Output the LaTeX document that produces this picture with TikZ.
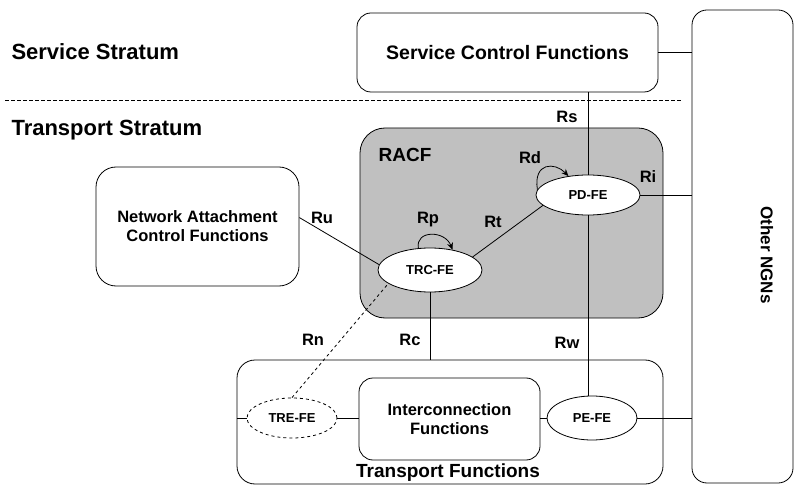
\documentclass[tikz,border=0pt]{standalone}
\usepackage{fontspec}
\setmainfont{Liberation Sans}
\usetikzlibrary{shapes.geometric,arrows.meta}
\newcommand\fsz[2]{\fontsize{#1}{#2}\selectfont\bfseries}
\definecolor{racfgray}{RGB}{192,192,192}
\begin{document}
\begin{tikzpicture}[x=1pt,y=-1pt,
  link/.style={line width=0.8pt},
  box/.style={draw, line width=0.8pt, rounded corners=14pt, align=center, inner sep=0pt},
  fe/.style={draw, line width=0.8pt, ellipse, fill=white, inner sep=0pt, font=\fsz{13}{15}},
  lbl/.style={font=\fsz{16.5}{19}},
  stratum/.style={font=\fsz{22}{26}, anchor=west},
  loop/.style={line width=0.8pt, -{Stealth[length=7pt,width=6pt]}}]
\useasboundingbox (0,0) rectangle (795,486);

% strata
\node[stratum] (ss) at (8,52) {Service Stratum};
\node[stratum] (ts) at (8,130) {Transport Stratum};
\coordinate (dl) at (5,100);
\coordinate (dr) at (681,100);

% main boxes
\node[box, minimum width=101pt, minimum height=473pt, rounded corners=15pt] (ngn) at (742.5,246.5) {};
\node[font=\fsz{17}{20}, rotate=-90] (ngnt) at (767,255) {Other NGNs};
\node[box, minimum width=301pt, minimum height=79pt, font=\fsz{19.5}{22}] (sc) at (507.5,52.5) {Service Control Functions};
\node[box, minimum width=303pt, minimum height=190pt, rounded corners=25pt, fill=racfgray] (racf) at (511.5,223) {};
\node[font=\fsz{19}{22}] (racft) at (405,155) {RACF};
\node[box, minimum width=203pt, minimum height=119pt, rounded corners=20pt, font=\fsz{16.5}{19}] (nacf) at (197.5,226.5) {Network Attachment\\Control Functions};
\node[box, minimum width=426pt, minimum height=124pt, rounded corners=18pt] (tf) at (450,422) {};
\node[font=\fsz{19}{22}] (tft) at (448,473) {Transport Functions};
\node[box, minimum width=181pt, minimum height=82pt, font=\fsz{16.5}{19}] (ic) at (449.5,419) {Interconnection\\Functions};

% functional entities
\node[fe, minimum width=104pt, minimum height=40pt] (pd) at (588,195) {PD-FE};
\node[fe, minimum width=104pt, minimum height=44pt] (trc) at (430,270) {TRC-FE};
\node[fe, dashed, minimum width=90pt, minimum height=40pt] (tre) at (292,418) {TRE-FE};
\node[fe, minimum width=90pt, minimum height=44pt] (pe) at (592,418) {PE-FE};

% stratum boundary
\draw[line width=0.7pt, dash pattern=on 4pt off 2pt] (dl) -- (dr);

% reference points
\draw[link] (sc.east) -- (sc.east -| ngn.west);
\draw[link] (pd.north |- sc.south) -- (pd.north);
\draw[link] (pd.east) -- (pd.east -| ngn.west);
\draw[link] (pd.south) -- (pd.south |- pe.north);
\draw[link] (trc.17) -- (pd.193);
\draw[link] (nacf.5) -- (trc.174);
\draw[link] (trc.south) -- (trc.south |- tf.north);
\draw[link, dashed] (tre.north) -- (trc.198);
\draw[link] (tre.west -| tf.west) -- (tre.west);
\draw[link] (tre.east) -- (tre.east -| ic.west);
\draw[link] (pe.west -| ic.east) -- (pe.west);
\draw[link] (pe.east) -- (pe.east -| ngn.west);

% internal reference points
\draw[loop] (pd.174) .. controls (533,162) and (555,162) .. (pd.136);
\draw[loop] (trc.118) .. controls (415,230) and (445,230) .. (trc.42);

% labels
\node[lbl] (rs) at (567,117) {Rs};
\node[lbl] (rd) at (530,158) {Rd};
\node[lbl] (ri) at (648,177) {Ri};
\node[lbl] (rp) at (428,220) {Rp};
\node[lbl] (rt) at (493,222) {Rt};
\node[lbl] (ru) at (322,218) {Ru};
\node[lbl] (rn) at (313,340) {Rn};
\node[lbl] (rc) at (410,340) {Rc};
\node[lbl] (rw) at (567,343) {Rw};
\end{tikzpicture}
\end{document}
